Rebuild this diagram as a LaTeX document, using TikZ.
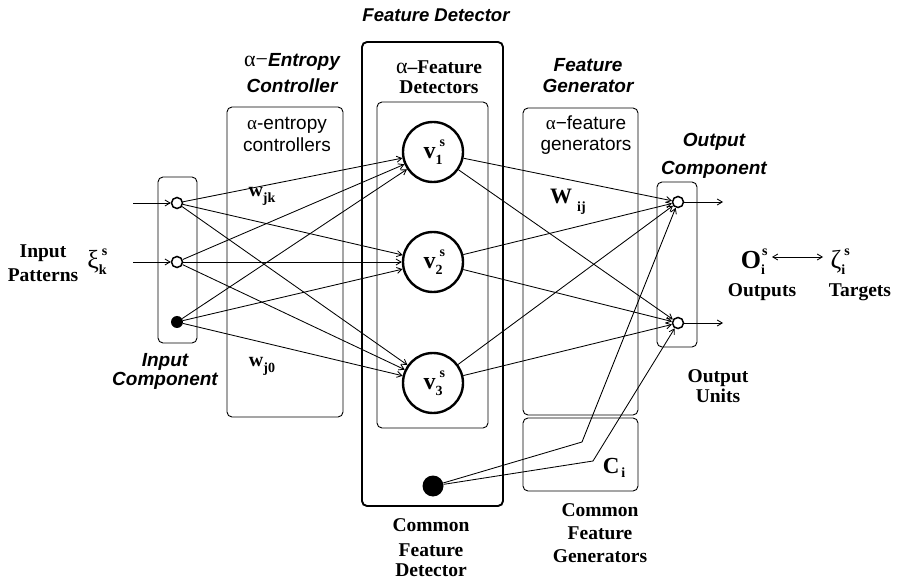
\documentclass[tikz,border=0pt]{standalone}
\usepackage{fontspec}
\setmainfont{Liberation Serif}
\setsansfont{Liberation Sans}
\usetikzlibrary{arrows.meta}

% stacked super- and subscript after a symbol
\newcommand\supsub[5]{#1\makebox[0pt][l]{\hspace*{#4}\raisebox{#5}{\fontsize{14}{14}\selectfont\bfseries #2}}\raisebox{-6pt}{\fontsize{14}{14}\selectfont\bfseries #3}}

\begin{document}
\begin{tikzpicture}[x=1pt,y=-1pt,
  lbl/.style={font=\fontsize{19.5}{24}\selectfont\bfseries, align=center, inner sep=0pt},
  ital/.style={font=\fontsize{19}{21}\selectfont\sffamily\bfseries\itshape, align=center, inner sep=0pt},
  plain/.style={font=\fontsize{19}{22}\selectfont\sffamily, align=center, inner sep=0pt},
  box/.style={draw, rounded corners=5pt, line width=0.9pt},
  unit/.style={circle, draw, line width=1.5pt, inner sep=0pt, minimum size=11pt, fill=white},
  bias/.style={circle, fill=black, inner sep=0pt, minimum size=12pt},
  hid/.style={circle, draw, line width=2.4pt, inner sep=0pt, minimum size=60pt,
    font=\fontsize{24}{24}\selectfont\bfseries},
  conn/.style={line width=0.85pt, -{Straight Barb[length=5pt,width=6pt]}},
]
\useasboundingbox (0,0) rectangle (898,580);

% component boxes
\draw[box] (158,177) rectangle (197,343);
\draw[box] (227,107) rectangle (343,417);
\draw[box, line width=1.9pt] (362,42) rectangle (503,506);
\draw[box] (377,102) rectangle (488,428);
\draw[box] (523,108) rectangle (638,415);
\draw[box] (523,418) rectangle (638,491);
\draw[box] (657,182) rectangle (697,347);

% input units
\node[unit] (i1) at (177,203) {};
\node[unit] (i2) at (177,262) {};
\node[bias] (i0) at (177,322) {};
\coordinate (x1) at (133,203);
\coordinate (x2) at (133,262);

% feature detectors
\node[hid] (v1) at (433,152) {\supsub{v}{s}{1}{4pt}{12pt}};
\node[hid] (v2) at (433,262) {\supsub{v}{s}{2}{4pt}{12pt}};
\node[hid] (v3) at (433,383) {\supsub{v}{s}{3}{4pt}{12pt}};
\node[bias, minimum size=21pt] (cd) at (433,486) {};

% output units
\node[unit] (o1) at (678,202) {};
\node[unit] (o2) at (678,323) {};
\coordinate (y1) at (723,202);
\coordinate (y2) at (723,323);
\coordinate (b1) at (582,442);
\coordinate (b2) at (593,461);

% connections
\draw[conn] (x1) -- (i1);
\draw[conn] (x2) -- (i2);
\foreach \a in {i1,i2,i0}
  \foreach \b in {v1,v2,v3}
    \draw[conn] (\a) -- (\b);
\foreach \a in {v1,v2,v3}
  \foreach \b in {o1,o2}
    \draw[conn] (\a) -- (\b);
\draw[conn] (cd) -- (b1) -- (o1);
\draw[conn] (cd) -- (b2) -- (o2);
\draw[conn] (o1) -- (y1);
\draw[conn] (o2) -- (y2);

% labels: input side
\node[lbl] (inpat) at (43,263) {Input\\Patterns};
\node[inner sep=0pt] (xi) at (97,262) {\fontsize{26}{26}\selectfont\supsub{ξ}{s}{k}{3pt}{13pt}};
\node[ital, font=\fontsize{19}{19}\selectfont\sffamily\bfseries\itshape] (incomp) at (165,371) {Input\\Component};

% labels: entropy controller
\node[ital, font=\fontsize{19}{26}\selectfont\sffamily\bfseries\itshape] (ecTitle) at (292,73) {{\rmfamily\mdseries\upshape\fontsize{22}{22}\selectfont α−}Entropy\\Controller};
\node[plain] (ecIn) at (287,134) {{\rmfamily α}-entropy\\controllers};
\node[inner sep=0pt] (wjk) at (262,196) {\fontsize{20}{20}\selectfont\bfseries w\raisebox{-6pt}{\fontsize{14}{14}\selectfont jk}};
\node[inner sep=0pt] (wj0) at (262,366) {\fontsize{20}{20}\selectfont\bfseries w\raisebox{-6pt}{\fontsize{14}{14}\selectfont j0}};

% labels: feature detector
\node[ital, font=\fontsize{18.5}{20}\selectfont\sffamily\bfseries\itshape] (fdTitle) at (436,15) {Feature Detector};
\node[lbl, font=\fontsize{19.5}{20}\selectfont\bfseries] (fdIn) at (439,77) {{\mdseries\fontsize{22}{20}\selectfont α}–Feature\\Detectors};
\node[lbl, font=\fontsize{19.5}{25}\selectfont\bfseries] (cdA) at (431,538) {Common\\Feature};
\node[lbl] (cdB) at (431,570) {Detector};

% labels: feature generator
\node[ital] (fgTitle) at (588,76) {Feature\\Generator};
\node[plain, font=\fontsize{19}{21}\selectfont\sffamily] (fgIn) at (586,135) {{\rmfamily α}−feature\\generators};
\node[inner sep=0pt] (wij) at (568,202) {\fontsize{22}{22}\selectfont\bfseries W\hspace{5pt}\raisebox{-8pt}{\fontsize{14}{14}\selectfont ij}};
\node[inner sep=0pt] (ci) at (614,468) {\fontsize{23}{23}\selectfont\bfseries C\hspace{2pt}\raisebox{-4pt}{\fontsize{14}{14}\selectfont i}};
\node[lbl, font=\fontsize{19.5}{23}\selectfont\bfseries] (cfg) at (600,533) {Common\\Feature\\Generators};

% labels: output side
\node[ital, font=\fontsize{19}{28}\selectfont\sffamily\bfseries\itshape] (ocTitle) at (714,156) {Output\\Component};
\node[lbl, font=\fontsize{19.5}{20}\selectfont\bfseries] (ounits) at (718,386) {Output\\Units};
\node[inner sep=0pt] (Os) at (753,262) {\fontsize{26}{26}\selectfont\bfseries\supsub{O}{s}{i}{1pt}{13pt}};
\node[inner sep=0pt] (zeta) at (838,262) {\fontsize{26}{26}\selectfont\supsub{ζ}{s}{i}{3pt}{13pt}};
\draw[line width=0.85pt, {Straight Barb[length=5pt,width=6pt]}-{Straight Barb[length=5pt,width=6pt]}] (772,257) -- (823,257);
\node[lbl] (outs) at (762,292) {Outputs};
\node[lbl] (targ) at (860,292) {Targets};
\end{tikzpicture}
\end{document}
